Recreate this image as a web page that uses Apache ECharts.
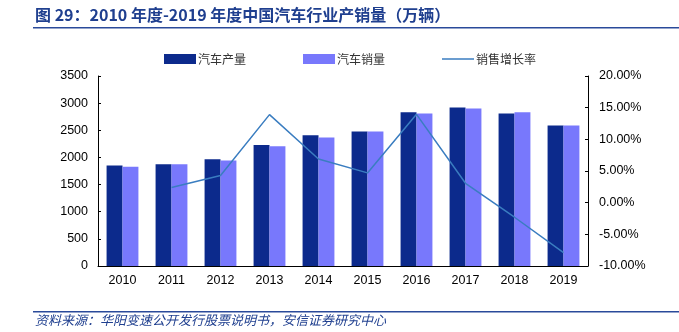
<!DOCTYPE html>
<html><head><meta charset="utf-8">
<script src="https://cdn.jsdelivr.net/npm/echarts@6/dist/echarts.min.js"></script>
<style>html,body{margin:0;padding:0;background:#fff}#c{width:679px;height:332px}</style>
</head><body><div id="c"></div>
<script>
const categories = ['2010','2011','2012','2013','2014','2015','2016','2017','2018','2019'];
const production = [1852, 1876, 1968, 2231, 2409, 2477, 2832, 2918, 2808, 2587];
const sales = [1826, 1876, 1944, 2207, 2366, 2477, 2808, 2900, 2832, 2587];
const salesGrowth = [null, 2.4, 4.3, 13.9, 6.9, 4.7, 13.95, 3.06, -2.3, -7.9];
const leftTicks = [0, 3500, 500];
const rightTicks = [-10, 20, 5];

const chart = echarts.init(document.getElementById('c'));
const font = "Liberation Sans, Arial, sans-serif";
const cjk = "'Noto Sans CJK SC', sans-serif";
chart.setOption({
  animation: false,
  grid: {left: 98, right: 91, top: 76, bottom: 66, containLabel: false},
  legend: {
    top: 48, left: 159, itemGap: 57, itemWidth: 32, itemHeight: 10,
    textStyle: {fontFamily: cjk, fontSize: 12, color: '#333', padding: [0,0,0,-3]},
    data: [{name: '汽车产量', icon: 'rect'}, {name: '汽车销量', icon: 'rect'},
      {name: '销售增长率', icon: 'path://M0,0 H64 V3 H0 Z', itemStyle: {color: '#3a7dc0'}}]
  },
  xAxis: {
    type: 'category', data: categories,
    axisLine: {lineStyle: {color: '#000', width: 1}},
    axisTick: {inside: true, length: 4, lineStyle: {color: '#000'}},
    axisLabel: {fontFamily: font, fontSize: 12.5, color: '#000', margin: 8}
  },
  yAxis: [{
    type: 'value', min: leftTicks[0], max: leftTicks[1], interval: leftTicks[2],
    axisLine: {show: true, lineStyle: {color: '#000'}},
    axisTick: {show: true, inside: true, length: 3, lineStyle: {color: '#000'}},
    splitLine: {show: false},
    axisLabel: {fontFamily: font, fontSize: 12.5, color: '#000', margin: 10, formatter: v => String(v)}
  }, {
    type: 'value', min: rightTicks[0], max: rightTicks[1], interval: rightTicks[2],
    axisLine: {show: true, lineStyle: {color: '#000'}},
    axisTick: {show: true, inside: true, length: 3, lineStyle: {color: '#000'}},
    splitLine: {show: false},
    axisLabel: {fontFamily: font, fontSize: 12.5, color: '#000', margin: 11,
      formatter: v => v.toFixed(2) + '%'}
  }],
  series: [
    {name: '汽车产量', type: 'bar', data: production, barGap: '0%', barCategoryGap: '35%',
      itemStyle: {color: '#0c2a8c'}},
    {name: '汽车销量', type: 'bar', data: sales,
      itemStyle: {color: '#7878fc'}},
    {name: '销售增长率', type: 'line', yAxisIndex: 1, data: salesGrowth, showSymbol: false,
      symbol: 'none', lineStyle: {color: '#3a7dc0', width: 1.5}, itemStyle: {color: '#3a7dc0'}, z: 5}
  ],
  graphic: [
    {type: 'text', left: 35, top: 7, style: {text: '图 29：2010 年度-2019 年度中国汽车行业产销量（万辆）',
      font: "bold 16px 'Noto Sans CJK SC', sans-serif", fill: '#1f3f8f'}},
    {type: 'rect', shape: {x: 33, y: 27, width: 646, height: 1.5}, style: {fill: '#2a4a9a'}},
    {type: 'rect', shape: {x: 33, y: 311, width: 646, height: 1.5}, style: {fill: '#2a4a9a'}},
    {type: 'text', left: 35, top: 314, style: {text: '资料来源：华阳变速公开发行股票说明书，安信证券研究中心',
      font: "italic 13px 'Noto Sans CJK SC', sans-serif", fill: '#1f3f8f'}}
  ]
});
</script></body></html>
